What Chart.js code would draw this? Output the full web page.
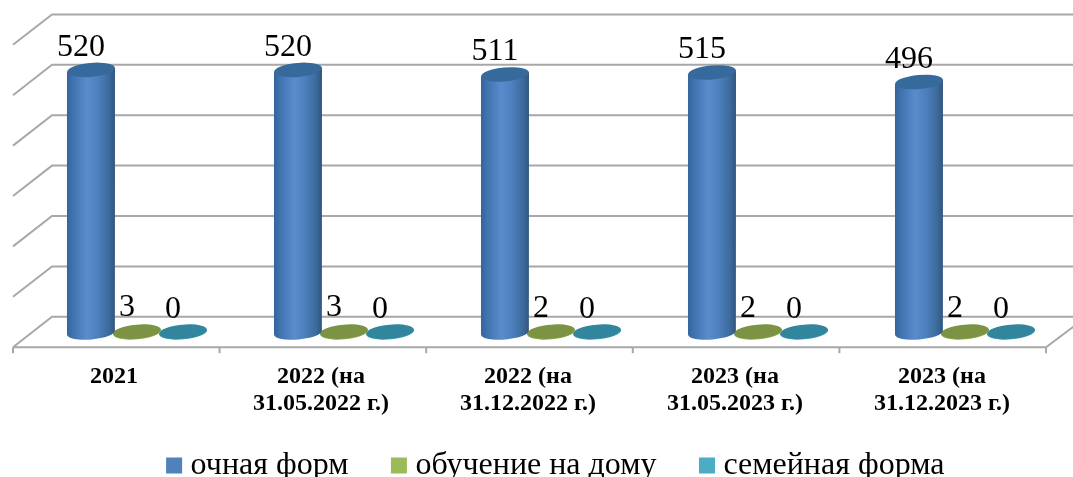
<!DOCTYPE html>
<html><head><meta charset="utf-8">
<style>html,body{margin:0;padding:0;background:#fff;overflow:hidden}canvas{display:block}</style>
<script src="https://cdn.jsdelivr.net/npm/chart.js@4/dist/chart.umd.min.js"></script>
</head><body><div style="width:1073px;height:477px"><canvas id="c" width="1073" height="477"></canvas></div>
<script>
const categories = ["2021", ["2022 (на","31.05.2022 г.)"], ["2022 (на","31.12.2022 г.)"], ["2023 (на","31.05.2023 г.)"], ["2023 (на","31.12.2023 г.)"]];
const ochnaya = [520, 520, 511, 515, 496];
const naDomu = [3, 3, 2, 2, 2];
const semeinaya = [0, 0, 0, 0, 0];
const seriesNames = ["очная форм", "обучение на дому", "семейная форма"];
const legendColors = ["#4F81BD", "#9BBB59", "#4BACC6"];
const rimColors = ["#4F81BD", "#8FAD52", "#3E9BB3"];
const capColors = ["#376A9C", "#7C9343", "#31859C"];
const serif = '"Liberation Serif", serif';
const DX = 19.5, DY = 15.2, OX = 1, GRID = "#a8a8a8";

const scene = {
  id: "scene3d",
  afterLayout(chart) {
    chart.legend.left += 8; chart.legend.right += 8;
    chart.legend.top += 14.5; chart.legend.bottom += 14.5;
    chart.scales.x.bottom = 445;
  },
  beforeDatasetsDraw(chart) {
    const {ctx, scales: {x, y}, chartArea: a} = chart;
    const wall = a.left - OX;
    ctx.save();
    ctx.strokeStyle = GRID; ctx.lineWidth = 2;
    y.ticks.forEach(t => {
      const p = y.getPixelForValue(t.value);
      ctx.beginPath();
      ctx.moveTo(wall - DX, p + DY);
      ctx.lineTo(wall + DX, p - DY);
      ctx.lineTo(1073, p - DY);
      ctx.stroke();
    });
    const p0 = y.getPixelForValue(0);
    const frontRight = wall - DX + 1033;
    ctx.beginPath();
    ctx.moveTo(wall - DX, p0 + DY);
    ctx.lineTo(frontRight, p0 + DY);
    ctx.lineTo(frontRight + 28, p0 + DY - 21);
    ctx.stroke();
    for (let i = 0; i <= categories.length; i++) {
      const tx = wall - DX + 1033 / categories.length * i;
      ctx.beginPath(); ctx.moveTo(tx, p0 + DY); ctx.lineTo(tx, p0 + DY + 6); ctx.stroke();
    }
    ctx.restore();
  },
  afterDatasetsDraw(chart) {
    const ctx = chart.ctx, tilt = -0.09, ry = 7;
    ctx.save();
    for (let d = chart.data.datasets.length - 1; d >= 0; d--) {
      chart.getDatasetMeta(d).data.forEach(bar => {
        const rx = 24, cx = bar.x, top = bar.y, base = bar.base;
        const dyEdge = rx * Math.sin(tilt);
        if (d === 0) {
          const g = ctx.createLinearGradient(cx - rx, 0, cx + rx, 0);
          g.addColorStop(0, "#35649c");
          g.addColorStop(0.12, "#3f72ae");
          g.addColorStop(0.42, "#5a8ccd");
          g.addColorStop(0.65, "#4c7fbc");
          g.addColorStop(0.88, "#3c6a9c");
          g.addColorStop(1, "#31557e");
          ctx.fillStyle = g;
          ctx.beginPath();
          ctx.moveTo(cx - rx, top - dyEdge);
          ctx.lineTo(cx - rx, base - dyEdge);
          ctx.ellipse(cx, base + 0.5, rx, ry, tilt, Math.PI, 0, true);
          ctx.lineTo(cx + rx, top + dyEdge);
          ctx.closePath();
          ctx.fill();
        } else {
          ctx.fillStyle = rimColors[d];
          ctx.beginPath();
          ctx.ellipse(cx, base + 0.4, rx, ry, tilt, 0, Math.PI * 2);
          ctx.fill();
        }
        ctx.fillStyle = capColors[d];
        ctx.beginPath();
        ctx.ellipse(cx, d === 0 ? top : base - 0.4, rx, ry, tilt, 0, Math.PI * 2);
        ctx.fill();
      });
    }
    ctx.fillStyle = "#000";
    ctx.font = "32px " + serif;
    ctx.textAlign = "center";
    ctx.textBaseline = "alphabetic";
    chart.data.datasets.forEach((ds, d) => {
      chart.getDatasetMeta(d).data.forEach((bar, i) => {
        ctx.fillText(String(ds.data[i]), bar.x - 10, bar.y - 14);
      });
    });
    ctx.restore();
  }
};

new Chart(document.getElementById("c"), {
  type: "bar",
  data: {
    labels: categories,
    datasets: [ochnaya, naDomu, semeinaya].map((values, i) => ({
      label: seriesNames[i],
      data: values,
      backgroundColor: legendColors[i],
      borderWidth: 0,
      categoryPercentage: 0.667,
      barPercentage: 1
    }))
  },
  options: {
    responsive: false,
    animation: false,
    layout: {padding: {left: 33.5, right: 4.5, top: 29.6, bottom: 0}},
    plugins: {
      tooltip: {enabled: false},
      title: {display: false},
      legend: {
        position: "bottom",
        labels: {
          color: "#000",
          font: {family: serif, size: 32},
          boxWidth: 1, boxHeight: 1, padding: 50,
          generateLabels: c => c.data.datasets.map((ds, i) => ({
            text: ds.label, fillStyle: legendColors[i], strokeStyle: legendColors[i],
            lineWidth: 15, hidden: false, datasetIndex: i, fontColor: "#000"
          }))
        }
      }
    },
    scales: {
      x: {
        grid: {display: false}, border: {display: false},
        afterFit: s => { s.height = 145 - (s.chart.legend ? s.chart.legend.height : 0); },
        ticks: {
          color: "#000", font: {family: serif, size: 24, weight: "bold", lineHeight: 1.13},
          labelOffset: -DX - OX - 2.5, padding: 23, maxRotation: 0, minRotation: 0, autoSkip: false
        }
      },
      y: {
        display: false, min: 0, max: 600,
        ticks: {stepSize: 100}, grid: {display: false}
      }
    }
  },
  plugins: [scene]
});
</script></body></html>
